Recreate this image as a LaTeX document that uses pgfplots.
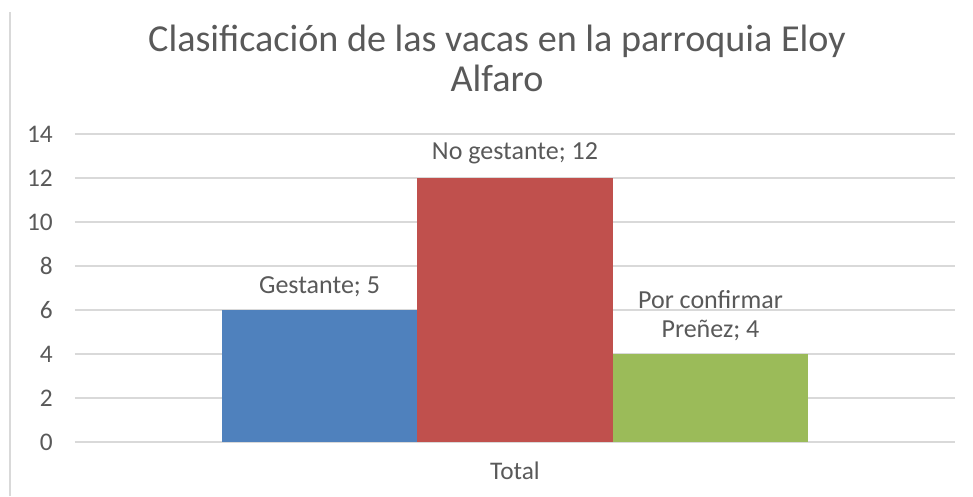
\documentclass[border=0pt]{standalone}
\usepackage{pgfplots}
\pgfplotsset{compat=1.18}
\usepackage{fontspec}
\setmainfont{Carlito}
\definecolor{txtgray}{HTML}{595959}
\definecolor{gridgray}{HTML}{D9D9D9}
\definecolor{barblue}{HTML}{4F81BD}
\definecolor{barred}{HTML}{C0504D}
\definecolor{bargreen}{HTML}{9BBB59}
\begin{document}
% 1 px of the reference = 0.75pt; origin = lower left corner of the plot area
\begin{tikzpicture}
  \path (-56.25pt,-40.5pt) rectangle (673.5pt,331.5pt);
  \draw[gridgray, line width=1.2pt] (-48.75pt,-40.5pt) -- (-48.75pt,322.5pt);
  \begin{axis}[
    at={(0,0)}, anchor=south west,
    scale only axis,
    width=660pt, height=231pt,
    ybar=0pt, bar width=146.6pt,
    xmin=-1, xmax=1,
    ymin=0, ymax=14,
    ytick={0,2,...,14},
    xtick={0}, xticklabels={Total},
    axis line style={draw=none},
    major tick length=0pt,
    ymajorgrids,
    grid style={draw=gridgray, line width=1.1pt},
    /pgf/number format/assume math mode=true,
    tick label style={font=\fontsize{19}{23}\selectfont, text=txtgray},
    yticklabel style={anchor=east, inner sep=0pt, xshift=-16.5pt},
    xticklabel style={anchor=north, inner sep=0pt, yshift=-15pt},
    nodes near coords style={font=\fontsize{19.5}{21.75}\selectfont, text=txtgray,
      anchor=south, inner sep=0pt, yshift=10pt, align=center},
    clip=false
  ]
    \addplot[fill=barblue, draw=none, nodes near coords={Gestante; 5}]
      coordinates {(0,6)};
    \addplot[fill=barred, draw=none, nodes near coords={No gestante; 12}]
      coordinates {(0,12)};
    \addplot[fill=bargreen, draw=none, nodes near coords={Por confirmar\\Preñez; 4}]
      coordinates {(0,4)};
  \end{axis}
  \node[font=\fontsize{28.6}{30}\selectfont, text=txtgray, align=center]
    at (316.5pt,288pt) {Clasificación de las vacas en la parroquia Eloy\\Alfaro};
\end{tikzpicture}
\end{document}
